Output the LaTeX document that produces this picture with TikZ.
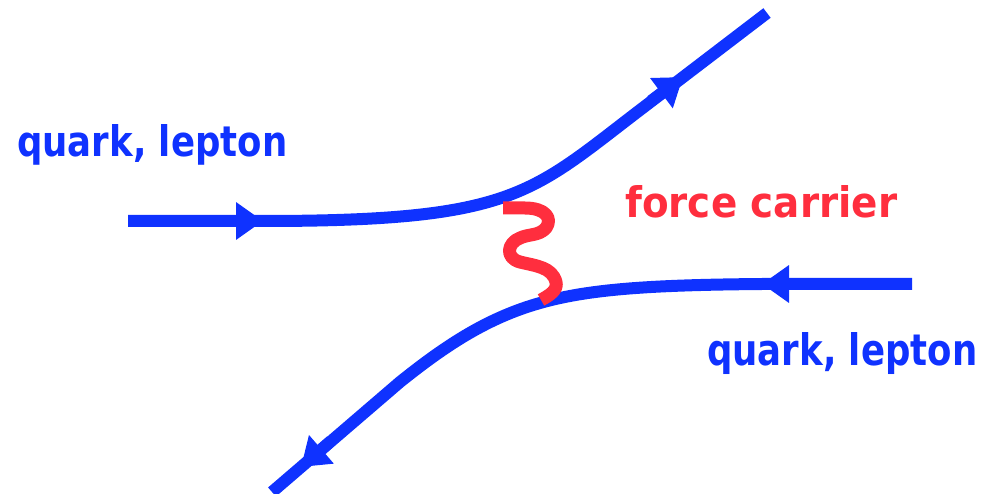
\documentclass[tikz,border=0pt]{standalone}
\usepackage{fontspec}
\setmainfont{DejaVu Sans}
\usepackage{graphicx}
\usetikzlibrary{arrows.meta}
\definecolor{fblue}{HTML}{0F32FF}
\definecolor{fred}{HTML}{FF2E3E}
\begin{document}
\begin{tikzpicture}[x=1pt,y=-1pt,
  fermion/.style={draw=fblue,line width=12pt,line cap=butt,line join=round},
  tipstyle/.style={fermion,-{Triangle[length=27pt,width=36pt]}},
  boson/.style={draw=fred,line width=13pt,line cap=butt,line join=round},
  lbl/.style={inner sep=0pt,anchor=base west,font=\bfseries}]
\useasboundingbox (0,0) rectangle (988,494);
% upper fermion line
\coordinate (a1) at (128,221);
\coordinate (a2) at (263,221);
\coordinate (a3) at (640,110);
\coordinate (a4) at (767,13);
\coordinate (t2) at (683,77);
% lower fermion line
\coordinate (b1) at (912,284);
\coordinate (b2) at (762,284);
\coordinate (b3) at (530,306);
\coordinate (b4) at (400,382);
\coordinate (b5) at (272,492);
\coordinate (t4) at (301,467);
% boson ends
\coordinate (w1) at (503,208);
\coordinate (w2) at (541,300);

\draw[fermion] (a1) -- (a2) .. controls (513,221) and (530,194) .. (a3) -- (a4);
\draw[fermion] (b1) -- (b2) .. controls (640,285) and (580,290) .. (b3)
  .. controls (480,322) and (440,350) .. (b4) -- (b5);

\draw[tipstyle] (223,221) -- (a2);
\draw[tipstyle] (651,101) -- (t2);
\draw[tipstyle] (802,284) -- (b2);
\draw[tipstyle] (331,441) -- (t4);

\draw[boson] (w1) -- (525,208) .. controls (545,208) and (553,218) .. (546,228)
  .. controls (539,236) and (528,234) .. (520,238)
  .. controls (507,243) and (505,258) .. (520,262)
  .. controls (536,266) and (552,267) .. (556,282)
  .. controls (558,290) and (550,295) .. (w2);

\node[lbl,text=fblue] (inL) at (17,157) {\resizebox{270pt}{32pt}{quark, lepton}};
\node[lbl,text=fblue] (inR) at (707,365) {\resizebox{270pt}{33pt}{quark, lepton}};
\node[lbl,text=fred] (fc) at (625,218) {\resizebox{272pt}{32pt}{force carrier}};
\end{tikzpicture}
\end{document}
